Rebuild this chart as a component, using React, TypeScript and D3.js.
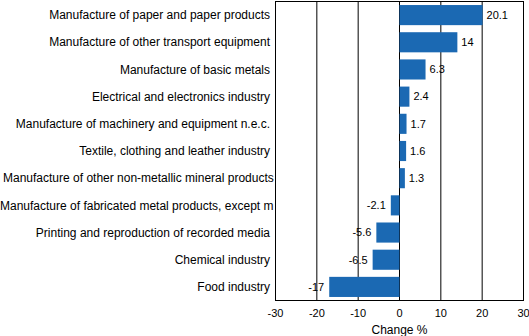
import React from "react";
import * as d3 from "d3";

const categories = [
  "Manufacture of paper and paper products",
  "Manufacture of other transport equipment",
  "Manufacture of basic metals ",
  "Electrical and electronics industry",
  "Manufacture of machinery and equipment n.e.c.",
  "Textile, clothing and leather industry",
  "Manufacture of other non-metallic mineral products",
  "Manufacture of fabricated metal products, except m",
  "Printing and reproduction of recorded media",
  "Chemical industry",
  "Food industry",
];
const values = [20.1, 14, 6.3, 2.4, 1.7, 1.6, 1.3, -2.1, -5.6, -6.5, -17];
const valueLabels = ["20.1", "14", "6.3", "2.4", "1.7", "1.6", "1.3", "-2.1", "-5.6", "-6.5", "-17"];
const xTicks = [-30, -20, -10, 0, 10, 20, 30];
const axisTitle = "Change %";

const W = 529;
const H = 336;
const left = 275.5;
const right = 523.5;
const top = 1.5;
const bottom = 300.5;
const font = "Arial, 'Liberation Sans', sans-serif";
const barColor = "#1b69b3";

let ctx: CanvasRenderingContext2D | null = null;
function measure(s: string, size: number) {
  if (!ctx) {
    const c = document.createElement("canvas");
    ctx = c.getContext("2d");
  }
  if (!ctx) return s.length * size * 0.52;
  ctx.font = `${size}px ${font}`;
  return ctx.measureText(s).width;
}

export default function App() {
  const x = d3.scaleLinear().domain([-30, 30]).range([left, right]);
  const y = d3.scaleBand<string>().domain(categories).range([top, bottom]).paddingInner(0.26).paddingOuter(0.13);
  const labelRight = 270;
  return (
    <svg width={W} height={H} style={{ position: "absolute", left: 0, top: 0, background: "#fff" }}>
      <rect x={0} y={0} width={W} height={H} fill="#fff" />
      {categories.map((c, i) => {
        const cy = y(c)! + y.bandwidth() / 2;
        const long = measure(c, 12) > labelRight - 2;
        return (
          <text
            key={"l" + i}
            x={long ? (i === 6 ? 3 : 0) : labelRight}
            y={cy}
            dy="0.35em"
            textAnchor={long ? "start" : "end"}
            fontFamily={font}
            fontSize={12}
            fill="#000"
          >
            {c}
          </text>
        );
      })}
      {xTicks.map((t) => (
        <line key={"g" + t} x1={x(t)} x2={x(t)} y1={top} y2={bottom} stroke="#000" strokeWidth={1} />
      ))}
      <rect x={left} y={top} width={right - left} height={bottom - top} fill="none" stroke="#000" strokeWidth={1} />
      {categories.map((c, i) => {
        const v = values[i];
        const x0 = v >= 0 ? x(0) : x(v);
        const w = Math.abs(x(v) - x(0));
        return (
          <rect key={"b" + i} x={x0} y={y(c)!} width={w} height={y.bandwidth()} fill={barColor} />
        );
      })}
      {categories.map((c, i) => {
        const v = values[i];
        const cy = y(c)! + y.bandwidth() / 2;
        return (
          <text
            key={"v" + i}
            x={v >= 0 ? x(v) + 4 : x(v) - 5}
            y={cy}
            dy="0.35em"
            textAnchor={v >= 0 ? "start" : "end"}
            fontFamily={font}
            fontSize={11}
            fill="#000"
          >
            {valueLabels[i]}
          </text>
        );
      })}
      {xTicks.map((t) => (
        <text key={"t" + t} x={x(t)} y={313} dy="0.35em" textAnchor="middle" fontFamily={font} fontSize={11} fill="#000">
          {t}
        </text>
      ))}
      <text x={(left + right) / 2} y={330} dy="0.35em" textAnchor="middle" fontFamily={font} fontSize={12} fill="#000">
        {axisTitle}
      </text>
    </svg>
  );
}
